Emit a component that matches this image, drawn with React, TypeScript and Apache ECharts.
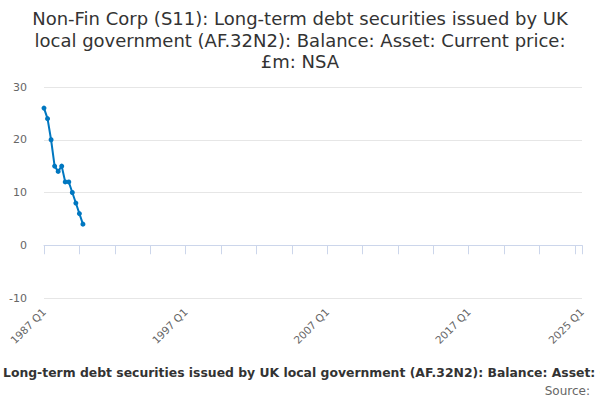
import React, { useEffect, useRef } from "react";
import * as echarts from "echarts";

const titleText =
  "Non-Fin Corp (S11): Long-term debt securities issued by UK\nlocal government (AF.32N2): Balance: Asset: Current price:\n£m: NSA";
const footerText =
  "Long-term debt securities issued by UK local government (AF.32N2): Balance: Asset: Current price: £m: NSA";
const sourceText = "Source:";

const startYear = 1987;
const endYear = 2025;
const quarters: string[] = [];
for (let y = startYear; y <= endYear; y++) {
  for (let q = 1; q <= 4; q++) {
    if (y === endYear && q > 1) break;
    quarters.push(`${y} Q${q}`);
  }
}

const values = [26, 24, 20, 15, 14, 15, 12, 12, 10, 8, 6, 4];

const yMin = -10;
const yMax = 30;
const yInterval = 10;

const FONT = "DejaVu Sans, Verdana, sans-serif";

export default function App() {
  const ref = useRef<HTMLDivElement>(null);
  useEffect(() => {
    if (!ref.current) return;
    const chart = echarts.init(ref.current, undefined, { renderer: "svg" });
    const last = quarters.length - 1;
    chart.setOption({
      animation: false,
      title: {
        text: titleText,
        left: "center",
        top: 3,
        textStyle: {
          fontFamily: FONT,
          fontSize: 18,
          fontWeight: "normal",
          color: "#333333",
          lineHeight: 21.5,
          align: "center",
        },
      },
      grid: { left: 44, right: 18, top: 87, bottom: 102, containLabel: false },
      xAxis: {
        type: "category",
        data: quarters,
        boundaryGap: false,
        axisLine: { lineStyle: { color: "#ccd6eb" } },
        axisTick: {
          show: true,
          length: 9,
          interval: (i: number) => i % 10 === 0 || i === last,
          lineStyle: { color: "#ccd6eb" },
        },
        axisLabel: {
          interval: (i: number) => i % 40 === 0 || i === last,
          rotate: 45,
          color: "#666666",
          fontSize: 10.5,
          fontFamily: FONT,
          margin: 12,
        },
        splitLine: { show: false },
      },
      yAxis: {
        type: "value",
        min: yMin,
        max: yMax,
        interval: yInterval,
        axisLine: { show: false },
        axisTick: { show: false },
        axisLabel: { color: "#666666", fontSize: 11, fontFamily: FONT, margin: 17 },
        splitLine: { lineStyle: { color: "#e6e6e6" } },
      },
      series: [
        {
          type: "line",
          data: values,
          symbol: "circle",
          symbolSize: 5,
          showSymbol: true,
          showAllSymbol: true,
          itemStyle: { color: "#0077c0" },
          lineStyle: { color: "#0077c0", width: 2 },
        },
      ],
      graphic: [
        {
          type: "text",
          left: 3,
          top: 366,
          style: {
            text: footerText,
            font: `bold 12.4px ${FONT}`,
            fill: "#333333",
          },
        },
        {
          type: "text",
          right: 10,
          top: 385,
          style: {
            text: sourceText,
            font: `12px ${FONT}`,
            fill: "#666666",
          },
        },
      ],
    });
    return () => chart.dispose();
  }, []);
  return (
    <div
      ref={ref}
      style={{ position: "absolute", left: 0, top: 0, width: 600, height: 400 }}
    />
  );
}
